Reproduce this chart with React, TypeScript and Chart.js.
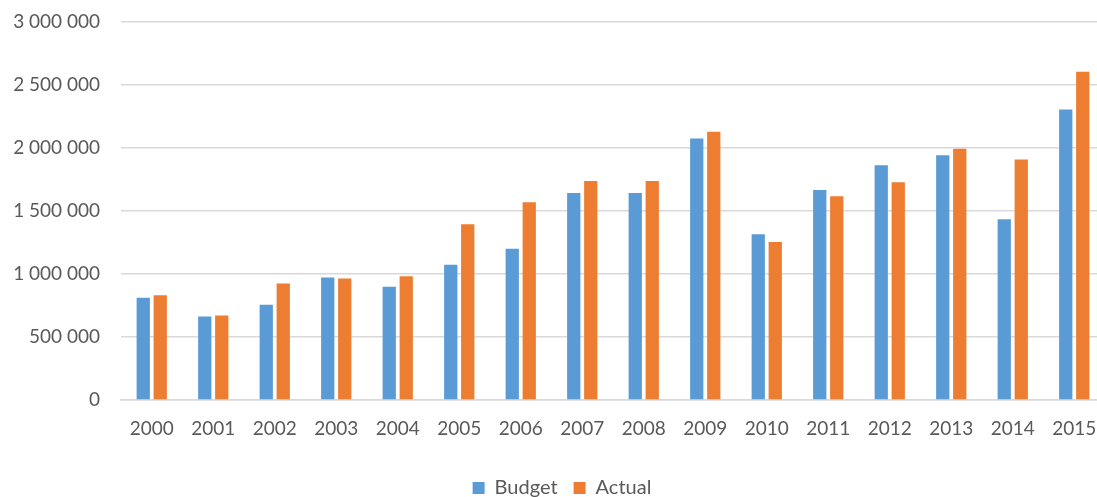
import { useEffect, useRef } from 'react';
import Chart from 'chart.js/auto';

const years = ['2000', '2001', '2002', '2003', '2004', '2005', '2006', '2007', '2008', '2009', '2010', '2011', '2012', '2013', '2014', '2015'];
const budget = [811000, 663000, 755000, 973000, 898000, 1073000, 1200000, 1643000, 1643000, 2075000, 1315000, 1667000, 1863000, 1943000, 1434000, 2305000];
const actual = [832000, 671000, 925000, 965000, 983000, 1394000, 1569000, 1738000, 1738000, 2128000, 1254000, 1617000, 1728000, 1995000, 1908000, 2605000];
const yTicks = [0, 500000, 1000000, 1500000, 2000000, 2500000, 3000000];

const FONT = 'Lato, "Open Sans", sans-serif';
const TEXT = '#595959';
const GRID = '#d9d9d9';

const fmt = (v: number) => String(v).replace(/\B(?=(\d{3})+(?!\d))/g, ' ');

// сдвигаем легенду, чтобы она центрировалась по всей ширине области диаграммы
const legendShift = {
	id: 'legendShift',
	afterLayout(chart: any) {
		const l = chart.legend;
		if (!l) return;
		l.left = 19;
		l.width = l.right - l.left;
	},
};

export default function App() {
	const canvasRef = useRef<HTMLCanvasElement>(null);
	const chartRef = useRef<Chart | null>(null);

	useEffect(() => {
		document.body.style.margin = '0';
		document.body.style.overflow = 'hidden';
		if (!canvasRef.current) return;
		if (chartRef.current) chartRef.current.destroy();

		chartRef.current = new Chart(canvasRef.current, {
			type: 'bar',
			data: {
				labels: years,
				datasets: [
					{
						label: 'Budget',
						data: budget,
						backgroundColor: '#5b9bd5',
						categoryPercentage: 0.553,
						barPercentage: 0.78,
					},
					{
						label: 'Actual',
						data: actual,
						backgroundColor: '#ed7d31',
						categoryPercentage: 0.553,
						barPercentage: 0.78,
					},
				],
			},
			options: {
				animation: false,
				responsive: false,
				maintainAspectRatio: false,
				layout: { padding: { left: 0, right: 19, top: 22, bottom: 0 } },
				plugins: {
					tooltip: { enabled: false },
					legend: {
						position: 'bottom',
						labels: {
							boxWidth: 12,
							boxHeight: 12,
							padding: 16,
							color: TEXT,
							font: { family: FONT, size: 20 },
						},
					},
				},
				scales: {
					x: {
						grid: { display: false, drawTicks: false },
						border: { color: GRID, width: 1.5 },
						ticks: {
							color: TEXT,
							font: { family: FONT, size: 19 },
							padding: 17,
							maxRotation: 0,
							autoSkip: false,
						},
						afterFit: (s: any) => {
							s.height = 62;
						},
					},
					y: {
						min: 0,
						max: 3000000,
						afterBuildTicks: (s: any) => {
							s.ticks = yTicks.map((v) => ({ value: v }));
						},
						grid: { color: GRID, lineWidth: 1.5, drawTicks: false },
						border: { display: false },
						ticks: {
							color: TEXT,
							font: { family: FONT, size: 19 },
							padding: 21,
							callback: (v: any) => fmt(Number(v)),
						},
						afterFit: (s: any) => {
							s.width = 121;
							s.paddingTop = 0;
							s.paddingBottom = 0;
						},
					},
				},
			},
			plugins: [legendShift],
		});

		return () => {
			if (chartRef.current) {
				chartRef.current.destroy();
				chartRef.current = null;
			}
		};
	}, []);

	return (
		<div style={{ position: 'fixed', left: 0, top: 0, width: '1124px', height: '508px', background: '#fff' }}>
			<canvas ref={canvasRef} width={1124} height={508} style={{ display: 'block', width: '1124px', height: '508px' }}></canvas>
		</div>
	);
}
